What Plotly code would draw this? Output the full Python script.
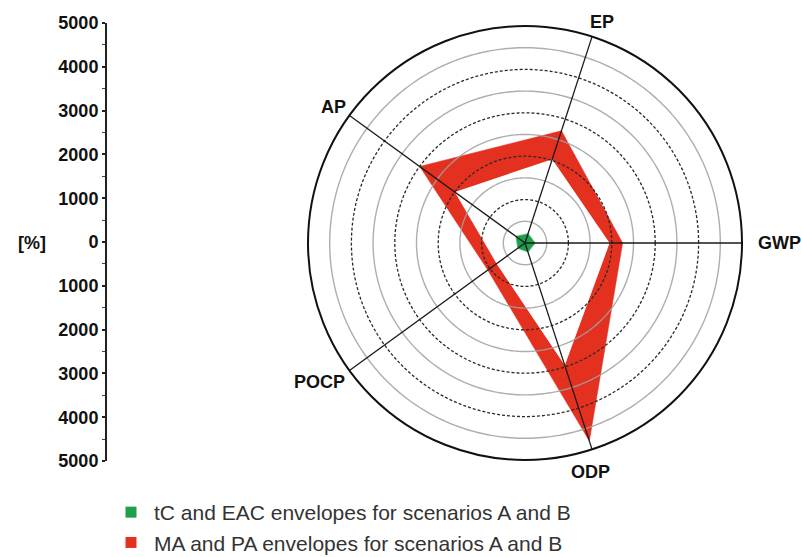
import numpy as np
import plotly.graph_objects as go

# Impact categories around the radar, counterclockwise from the right
categories = ["GWP", "EP", "AP", "POCP", "ODP"]

# Envelope of MA and PA results, scenarios A and B [%]
ma_pa_min = [1950, 2030, 2000, 810, 2970]
ma_pa_max = [2250, 2720, 3000, 1060, 4800]

# Envelope of tC and EAC results, scenarios A and B [%]
tc_eac_max = [230, 220, 250, 200, 210]

# Concentric reference rings and the outer limit of the radar
ring_minor = [500, 1500, 2500, 3500, 4500]
ring_major = [1000, 2000, 3000, 4000]
r_max = 5000

# Values on the separate vertical scale at the left
scale_vals = [-5000, -4000, -3000, -2000, -1000, 0, 1000, 2000, 3000, 4000, 5000]
scale_text = [str(abs(v)) for v in scale_vals]

RED = "#e4301f"
GREEN = "#1f9e4c"
BOLD = "Liberation Sans, Arial, sans-serif"

step = 360 / len(categories)
angles = [i * step for i in range(len(categories))]


def closed(vals):
    return list(vals) + [vals[0]], angles + [angles[0]]


fig = go.Figure()

# red band between the lower and upper envelope
r_in, th_in = closed(ma_pa_min)
r_out, th_out = closed(ma_pa_max)
fig.add_trace(go.Scatterpolar(r=r_in, theta=th_in, mode="lines",
                              line=dict(width=0, color=RED), showlegend=False,
                              hoverinfo="skip"))
fig.add_trace(go.Scatterpolar(r=r_out, theta=th_out, mode="lines", fill="tonext",
                              fillcolor=RED, line=dict(width=0.5, color=RED),
                              showlegend=False))

# small green envelope at the centre
r_g, th_g = closed(tc_eac_max)
fig.add_trace(go.Scatterpolar(r=r_g, theta=th_g, mode="lines", fill="toself",
                              fillcolor=GREEN, line=dict(width=1.5, color="rgba(31,158,76,0.6)"),
                              showlegend=False))

# reference rings drawn over the envelopes
circ = np.linspace(0, 360, 361)
for rv in ring_minor:
    fig.add_trace(go.Scatterpolar(r=[rv] * len(circ), theta=circ, mode="lines",
                                  line=dict(color="rgba(160,160,160,0.85)", width=1.4),
                                  showlegend=False, hoverinfo="skip"))
for rv in ring_major:
    fig.add_trace(go.Scatterpolar(r=[rv] * len(circ), theta=circ, mode="lines",
                                  line=dict(color="#2a2a2a", width=1.3, dash="3px,2px"),
                                  showlegend=False, hoverinfo="skip"))

# spokes
for a in angles:
    fig.add_trace(go.Scatterpolar(r=[0, r_max], theta=[a, a], mode="lines",
                                  line=dict(color="#1a1a1a", width=1.3),
                                  showlegend=False, hoverinfo="skip"))

# legend entries
fig.add_trace(go.Scatterpolar(r=[None], theta=[None], mode="markers",
                              marker=dict(symbol="square", size=11, color=GREEN),
                              name="tC and EAC envelopes for scenarios A and B"))
fig.add_trace(go.Scatterpolar(r=[None], theta=[None], mode="markers",
                              marker=dict(symbol="square", size=11, color=RED),
                              name="MA and PA envelopes for scenarios A and B"))

# invisible carrier for the left scale
fig.add_trace(go.Scatter(x=[0, 0], y=[-5000, 5000], mode="lines",
                         line=dict(width=0), showlegend=False, hoverinfo="skip",
                         xaxis="x", yaxis="y"))

W, H = 801, 557
cx, cy, rad = 525, 243, 217

# category labels just outside the rim, centred on a point along each spoke
label_gap = [37, 17, 18, 31, 21]
label_turn = [0, -1.2, 0.7, -2, -2]
label_font = dict(family=BOLD, size=18, color="#111", weight="bold")
annotations = []
for name, a, g, t in zip(categories, angles, label_gap, label_turn):
    ang = np.deg2rad(a + t)
    px = cx + (rad + g) * np.cos(ang)
    py = cy - (rad + g) * np.sin(ang)
    annotations.append(dict(text=name, x=px / W, y=1 - py / H, xref="paper", yref="paper",
                            showarrow=False, xanchor="center", yanchor="middle",
                            font=label_font))
annotations.append(dict(text="[%]", x=32 / W, y=1 - cy / H, xref="paper", yref="paper",
                        showarrow=False, xanchor="center", yanchor="middle",
                        font=label_font))

fig.update_layout(
    width=W, height=H,
    margin=dict(l=0, r=0, t=0, b=0, autoexpand=False),
    paper_bgcolor="white", plot_bgcolor="rgba(0,0,0,0)",
    polar=dict(
        domain=dict(x=[(cx - rad) / W, (cx + rad) / W],
                    y=[1 - (cy + rad) / H, 1 - (cy - rad) / H]),
        bgcolor="white",
        radialaxis=dict(range=[0, r_max], visible=False),
        angularaxis=dict(
            tickmode="array", tickvals=angles, ticktext=categories,
            rotation=0, direction="counterclockwise",
            showgrid=False, showline=True, linecolor="#111", linewidth=2,
            ticks="", showticklabels=False, layer="above traces",
        ),
    ),
    xaxis=dict(domain=[107 / W, 108 / W], range=[0, 1], visible=False, fixedrange=True),
    yaxis=dict(
        domain=[1 - 461 / H, 1 - 23 / H], range=[-5000, 5000], anchor="x",
        side="left", showline=True, linecolor="#222", linewidth=2, automargin=False,
        tickmode="array", tickvals=scale_vals, ticktext=scale_text,
        ticks="outside", ticklen=3, tickwidth=1.5, tickcolor="#222",
        minor=dict(tickvals=[v + 500 for v in scale_vals[:-1]], ticks="outside",
                   ticklen=3, tickwidth=1.2, tickcolor="#444"),
        showgrid=False, zeroline=False,
        tickfont=dict(family=BOLD, size=18, color="#111", weight="bold"),
    ),
    legend=dict(
        x=108 / W, y=1 - 492 / H, xanchor="left", yanchor="top",
        font=dict(family="Liberation Sans, Arial, sans-serif", size=21, color="#333"),
        bgcolor="rgba(0,0,0,0)", tracegroupgap=0, itemwidth=36,
    ),
    showlegend=True,
    annotations=annotations,
)

fig.write_html("out.html")
